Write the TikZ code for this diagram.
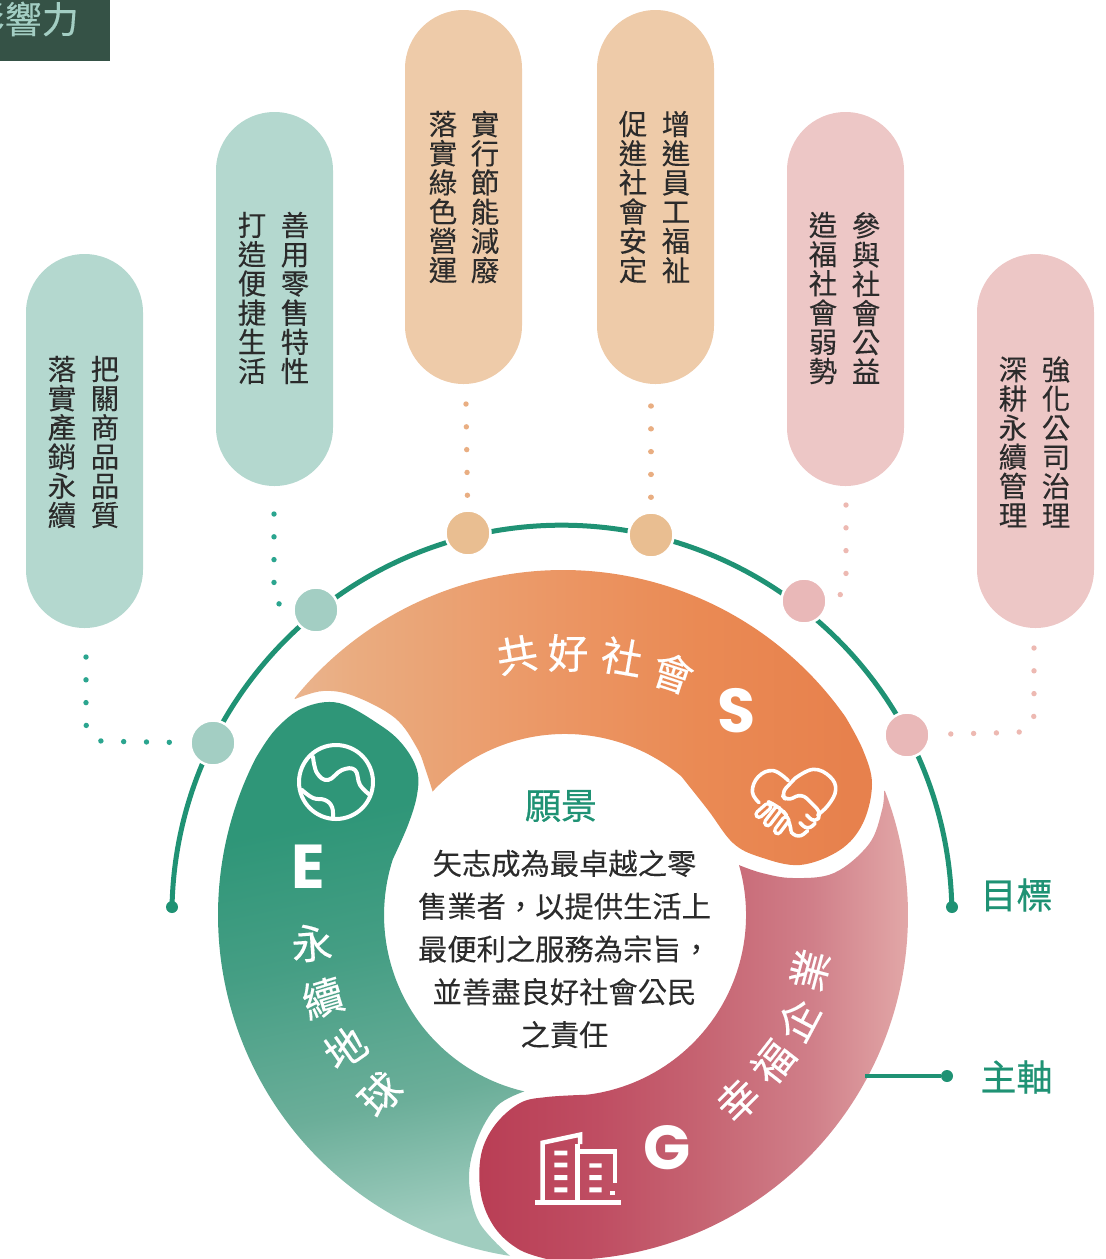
\documentclass[tikz,border=0pt]{standalone}
\usepackage{fontspec}
\newfontfamily\cjk[FakeBold=0.15]{Noto Sans CJK TC}
\newfontfamily\cjkr[FakeBold=0.35]{Noto Sans CJK TC}
\newfontfamily\cjkm[FakeBold=0.6]{Noto Sans CJK TC}
\newfontfamily\lat{Poppins}
\definecolor{ringgreen}{HTML}{1F9274}
\definecolor{tealpill}{HTML}{B4D8CF}
\definecolor{peachpill}{HTML}{EECBA9}
\definecolor{rosepill}{HTML}{EDC7C6}
\definecolor{tealhub}{HTML}{A3CEC3}
\definecolor{peachhub}{HTML}{E9BE91}
\definecolor{rosehub}{HTML}{E9B8B8}
\definecolor{tealdot}{HTML}{2BA58F}
\definecolor{peachdot}{HTML}{E9AE82}
\definecolor{rosedot}{HTML}{EDB9B2}
\definecolor{inktext}{HTML}{2B2B2B}
\definecolor{tagfill}{HTML}{355246}
\definecolor{handfill}{HTML}{E8844F}
\definecolor{ga}{HTML}{A0CDBF}\definecolor{gb}{HTML}{6BAE99}\definecolor{gc}{HTML}{459E84}\definecolor{gd}{HTML}{2F9678}
\definecolor{oa}{HTML}{EAB48E}\definecolor{ob}{HTML}{EAAC80}\definecolor{oc}{HTML}{EB9664}\definecolor{od}{HTML}{EA8A54}\definecolor{oe}{HTML}{E7814D}
\definecolor{ra}{HTML}{B93E55}\definecolor{rb}{HTML}{BF4D62}\definecolor{rc}{HTML}{C66472}\definecolor{rd}{HTML}{D07F89}\definecolor{re}{HTML}{E6B0AE}
\pgfdeclareverticalshading{greenfade}{100bp}{color(0bp)=(ga);color(25bp)=(ga);color(37.5bp)=(gb);color(52.5bp)=(gc);color(66bp)=(gd);color(100bp)=(gd)}
\pgfdeclarehorizontalshading{orangefade}{100bp}{color(0bp)=(oa);color(25bp)=(oa);color(30bp)=(ob);color(48bp)=(oc);color(60bp)=(od);color(73bp)=(oe);color(100bp)=(oe)}
\pgfdeclarehorizontalshading{rosefade}{100bp}{color(0bp)=(ra);color(25bp)=(ra);color(38bp)=(rb);color(50bp)=(rc);color(62bp)=(rd);color(75bp)=(re);color(100bp)=(re)}
\tikzset{
  pill/.style={rectangle,rounded corners=58.5pt,minimum width=117pt,minimum height=374pt,inner sep=0pt},
  vcol/.style={inner sep=0pt,align=center,text=inktext,font=\cjk\fontsize{28.5}{29.2}\selectfont},
  hub/.style={circle,draw=white,line width=2.5pt,minimum size=45pt,inner sep=0pt},
  enddot/.style={circle,fill=ringgreen,minimum size=12pt,inner sep=0pt},
  dotline/.style={line width=5.4pt,line cap=round,dash pattern=on 0.01pt off 22.8pt},
  ringtxt/.style={text=white,inner sep=0pt,font=\cjkr\fontsize{41}{41}\selectfont},
  esg/.style={text=white,inner sep=0pt,font=\lat\bfseries\fontsize{62}{62}\selectfont},
  side/.style={text=ringgreen,inner sep=0pt,font=\cjkm\fontsize{36}{36}\selectfont},
  icon/.style={draw=white,line width=4pt,line cap=round,line join=round},
  hand/.style={draw=white,line width=3.6pt,line cap=round,line join=round},
}
\begin{document}
\begin{tikzpicture}[x=1pt,y=-1pt]
\useasboundingbox (0,0) rectangle (1106,1259);
% tag
\fill[tagfill] (0,0) rectangle (110,61);
\node[anchor=east,inner sep=0pt,text=tealhub,font=\cjkr\fontsize{37}{37}\selectfont] (tag) at (79,19) {影響力};
% ring
\node[enddot] (e1) at (172,907) {};
\node[enddot] (e2) at (952,907) {};
\draw[ringgreen,line width=5pt] (e1.center) arc[start angle=181.2,end angle=358.8,radius=390];
% pills
\node[pill,fill=tealpill] (p1) at (84.5,441) {};
\node[pill,fill=tealpill] (p2) at (274.5,299) {};
\node[pill,fill=peachpill] (p3) at (463.5,197) {};
\node[pill,fill=peachpill] (p4) at (655.5,197) {};
\node[pill,fill=rosepill] (p5) at (845.5,299) {};
\node[pill,fill=rosepill] (p6) at (1035.5,441) {};
\node[vcol] (t1a) at (105,442) {把\\關\\商\\品\\品\\質};
\node[vcol] (t1b) at (62,442) {落\\實\\產\\銷\\永\\續};
\node[vcol] (t2a) at (295,298) {善\\用\\零\\售\\特\\性};
\node[vcol] (t2b) at (252,298) {打\\造\\便\\捷\\生\\活};
\node[vcol] (t3a) at (485,197) {實\\行\\節\\能\\減\\廢};
\node[vcol] (t3b) at (443,197) {落\\實\\綠\\色\\營\\運};
\node[vcol] (t4a) at (676,197) {增\\進\\員\\工\\福\\祉};
\node[vcol] (t4b) at (633,197) {促\\進\\社\\會\\安\\定};
\node[vcol] (t5a) at (866,298) {參\\與\\社\\會\\公\\益};
\node[vcol] (t5b) at (823,298) {造\\福\\社\\會\\弱\\勢};
\node[vcol] (t6a) at (1056,442) {強\\化\\公\\司\\治\\理};
\node[vcol] (t6b) at (1013,442) {深\\耕\\永\\續\\管\\理};
% hubs
\node[hub,fill=tealhub] (c1) at (213,743) {};
\node[hub,fill=tealhub] (c2) at (316,610) {};
\node[hub,fill=peachhub] (c3) at (468,533) {};
\node[hub,fill=peachhub] (c4) at (651,535) {};
\node[hub,fill=rosehub] (c5) at (804,601) {};
\node[hub,fill=rosehub] (c6) at (907,735) {};
% dotted connectors
\coordinate (d1s) at (86,657); \coordinate (d1k) at (86,741);
\coordinate (d2s) at (274,514); \coordinate (d2k) at (274,608);
\coordinate (d3s) at (466,404);
\coordinate (d4s) at (651,406);
\coordinate (d5s) at (846,505); \coordinate (d5k) at (846,598);
\coordinate (d6s) at (1034,648); \coordinate (d6k) at (1034,732);
\draw[dotline,tealdot,rounded corners=18pt] (d1s) -- (d1k) -- (c1);
\draw[dotline,tealdot,rounded corners=16pt] (d2s) -- (d2k) -- (c2);
\draw[dotline,peachdot] (d3s) -- (c3);
\draw[dotline,peachdot] (d4s) -- (c4);
\draw[dotline,rosedot,rounded corners=16pt] (d5s) -- (d5k) -- (c5);
\draw[dotline,rosedot,rounded corners=18pt] (d6s) -- (d6k) -- (c6);
% orange S
\shade[shading=orangefade]
 ([shift={(563,915)}]218.9:345) arc[start angle=218.9,end angle=325,radius=345]
 -- plot[smooth,tension=.6] coordinates {(845.6,717.1)(863,750)(872,784)(863,823)(840,850)(800,865)(760,857)(733,843)(708,810)(681.3,776.3)}
 arc[start angle=-50,end angle=-137,radius=181]
 -- plot[smooth,tension=.6] coordinates {(432.6,791.6)(426,771)(417,748)(395,718)(354,696)(323,691)(295,699)} -- cycle;
% rose G
\shade[shading=rosefade]
 ([shift={(563,915)}]-21.1:345) arc[start angle=-21.1,end angle=92,radius=345]
 -- plot[smooth,tension=.6] coordinates {(551,1260)(520,1250)(495,1228)(481,1195)(481,1155)(495,1125)(520,1103)(547,1097)(587.1,1094.7)}
 arc[start angle=83,end angle=-16,radius=181]
 -- plot[smooth,tension=.6] coordinates {(739,865.1)(762,873)(793,878)(834,873)(869,844)(882,810)(884,791)} -- cycle;
% green E
\shade[shading=greenfade,shading angle=12]
 ([shift={(563,915)}]98.8:345) arc[start angle=98.8,end angle=207,radius=345]
 -- plot[smooth,tension=.6] coordinates {(255.6,758.4)(275,730)(303,708)(339,703)(380,725)(403,745)(417,770)(417,795)(408,825)(392.9,859.1)}
 arc[start angle=198,end angle=103,radius=181]
 -- plot[smooth,tension=.6] coordinates {(524.3,1091.4)(497,1106)(477,1140)(469,1179)(479,1222)(510,1256)} -- cycle;
% centre text
\node[inner sep=0pt,text=ringgreen,font=\cjkm\fontsize{36}{36}\selectfont] (vision) at (561,806) {願景};
\node[inner sep=0pt,align=center,text=inktext,font=\cjk\fontsize{29.3}{42.8}\selectfont] (mission) at (564.5,949) {矢志成為最卓越之零\\售業者，以提供生活上\\最便利之服務為宗旨，\\並善盡良好社會公民\\之責任};
% ring words
\node[ringtxt,rotate=10] (s1) at (517,655) {共};
\node[ringtxt,rotate=0] (s2) at (568,653) {好};
\node[ringtxt,rotate=-10] (s3) at (622,657) {社};
\node[ringtxt,rotate=-18] (s4) at (673,673) {會};
\node[ringtxt,rotate=4] (e5) at (312,943) {永};
\node[ringtxt,rotate=17] (e6) at (323,998) {續};
\node[ringtxt,rotate=35] (e7) at (345,1048) {地};
\node[ringtxt,rotate=45] (e8) at (380,1094) {球};
\node[ringtxt,rotate=45] (g1) at (738,1100) {幸};
\node[ringtxt,rotate=52] (g2) at (773,1062) {福};
\node[ringtxt,rotate=62] (g3) at (798,1020) {企};
\node[ringtxt,rotate=75] (g4) at (810,970) {業};
\node[esg] (letS) at (737,711) {S};
\node[esg] (letE) at (308,867) {E};
\node[esg] (letG) at (667,1148) {G};
% side labels
\node[enddot] (e3) at (947,1076) {};
\coordinate (axis) at (865,1076);
\draw[ringgreen,line width=3.5pt] (axis) -- (e3);
\node[side] (goal) at (1016.5,895) {目標};
\node[side] (main) at (1016.5,1077) {主軸};
% globe
\draw[icon] (336,782) circle[radius=37];
\draw[icon] plot[smooth,tension=.7] coordinates {(313,757)(317,773)(328,780)(342,770)(355,770)(360,785)(370,795)};
\draw[icon] plot[smooth,tension=.7] coordinates {(302,790)(313,798)(325,800)(332,807)(333,818)};
% handshake
\begin{scope}[shift={(745,760)},scale=1/3]
\draw[hand] plot[smooth,tension=.7] coordinates {(42,128)(22,95)(40,50)(85,32)(130,62)};
\draw[hand] plot[smooth,tension=.7] coordinates {(150,55)(205,28)(255,50)(272,90)(250,135)(218,165)};
\draw[hand,rounded corners=7pt] (150,55) -- (108,100) -- (125,124) -- (170,100) -- (230,160) -- (210,190) -- (185,165);
\draw[hand,rounded corners=7pt] (210,190) -- (188,212) -- (165,188);
\draw[hand,rounded corners=7pt] (188,212) -- (160,236) -- (138,216);
\draw[hand,rounded corners=9pt] (70,125) -- (108,145) -- (132,175) -- (138,212);
\foreach \ax/\ay/\bx/\by/\nm in {68/140/42/163/a,97/150/68/188/b,122/180/98/212/c}{
  \draw[line width=9.5pt,line cap=round,white] (\ax,\ay) -- (\bx,\by);
  \draw[line width=2.6pt,line cap=round,handfill] (\ax,\ay) -- (\bx,\by);
}
\end{scope}
% building
\begin{scope}[shift={(500,1000)},scale=1/3]
\draw[icon,line width=5pt,line cap=butt] (105,607) -- (362,607);
\draw[icon,line width=4.5pt,line cap=butt,line join=miter] (128,607) -- (128,428) -- (240,404) -- (240,432);
\draw[icon,line width=4.5pt,line cap=butt] (232,432) -- (232,607);
\draw[icon,line width=4.5pt,line cap=butt,line join=miter] (232,455) -- (345,455) -- (345,550);
\fill[white] (163,452) rectangle (202,466) (163,488) rectangle (202,502) (163,525) rectangle (202,540) (163,562) rectangle (202,577);
\fill[white] (268,490) rectangle (305,503) (268,525) rectangle (305,540) (268,562) rectangle (305,577);
\fill[white] (330,572) rectangle (345,585);
\end{scope}
\end{tikzpicture}
\end{document}
